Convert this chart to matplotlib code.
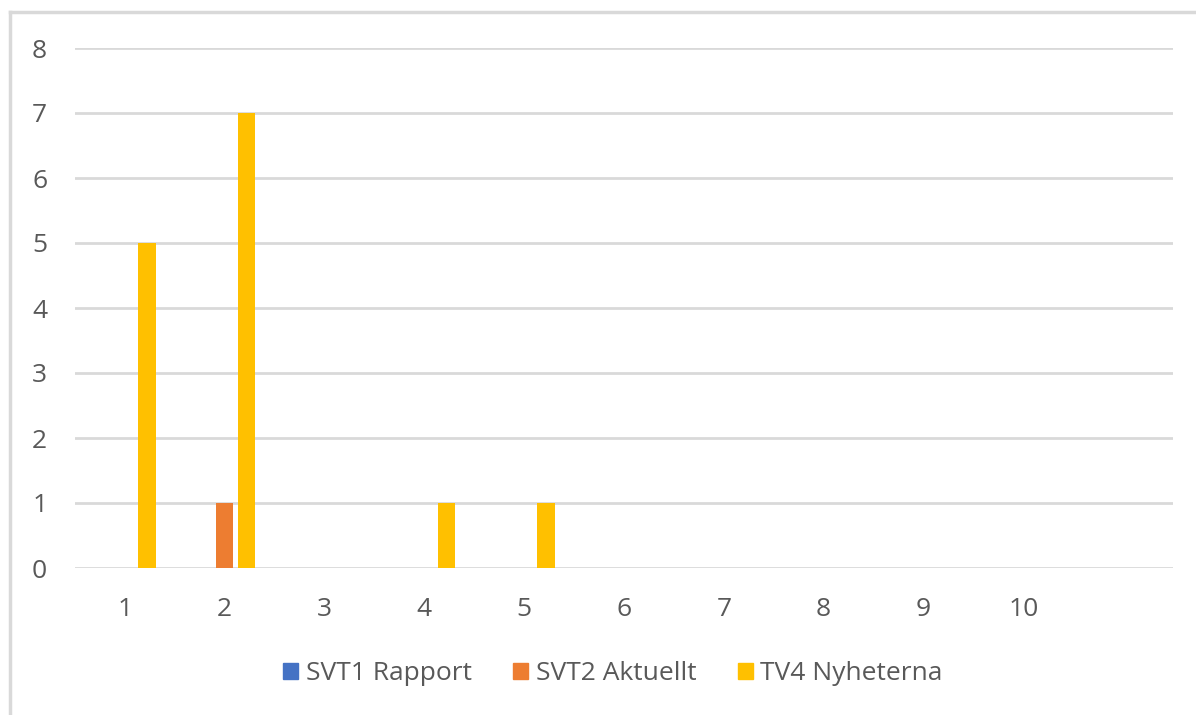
import matplotlib.pyplot as plt
from matplotlib.lines import Line2D
import numpy as np

plt.rcParams['font.family'] = ['Open Sans', 'DejaVu Sans']

# Data
kategorier = ['1', '2', '3', '4', '5', '6', '7', '8', '9', '10', '']
serier = ['SVT1 Rapport', 'SVT2 Aktuellt', 'TV4 Nyheterna']
svt1 = [0, 0, 0, 0, 0, 0, 0, 0, 0, 0, 0]
svt2 = [0, 1, 0, 0, 0, 0, 0, 0, 0, 0, 0]
tv4 = [5, 7, 0, 1, 1, 0, 0, 0, 0, 0, 0]
farger = ['#4472c4', '#ed7d31', '#ffc000']

W, H = 1196, 715
fig = plt.figure(figsize=(W / 100, H / 100), dpi=100)
ax = fig.add_axes([75 / W, 1 - 568 / H, (1173 - 75) / W, (568 - 48) / H])

x = np.arange(len(kategorier))
bredd = 0.175
steg = 0.22
for i, (varden, farg) in enumerate(zip([svt1, svt2, tv4], farger)):
    ax.bar(x + (i - 1) * steg, varden, width=bredd, color=farg, zorder=3)

ax.set_xlim(-0.5, len(kategorier) - 0.5)
ax.set_ylim(0, 8)
ax.set_yticks(range(0, 9))
ax.set_xticks(x)
ax.set_xticklabels(kategorier)
ax.yaxis.grid(True, color='#d9d9d9', linewidth=2, zorder=0)
ax.tick_params(axis='both', length=0, labelsize=19, labelcolor='#595959')
ax.tick_params(axis='y', pad=20)
ax.tick_params(axis='x', pad=21)
for s in ax.spines.values():
    s.set_visible(False)

# chart frame (left and top edge visible)
fig.add_artist(Line2D([9.5 / W, 9.5 / W], [0, 1 - 12 / H], color='#d9d9d9',
                      linewidth=2.5, transform=fig.transFigure))
fig.add_artist(Line2D([9.5 / W, 1], [1 - 12 / H, 1 - 12 / H], color='#d9d9d9',
                      linewidth=2.5, transform=fig.transFigure))

handles = [plt.Rectangle((0, 0), 1, 1, color=c) for c in farger]
fig.legend(handles, serier, loc='center', bbox_to_anchor=(613 / W, 1 - 674 / H),
           ncol=3, frameon=False, fontsize=19, labelcolor='#595959',
           handlelength=0.57, handleheight=0.57, handletextpad=0.3, columnspacing=1.55)

fig.savefig('out.png', dpi=100)
